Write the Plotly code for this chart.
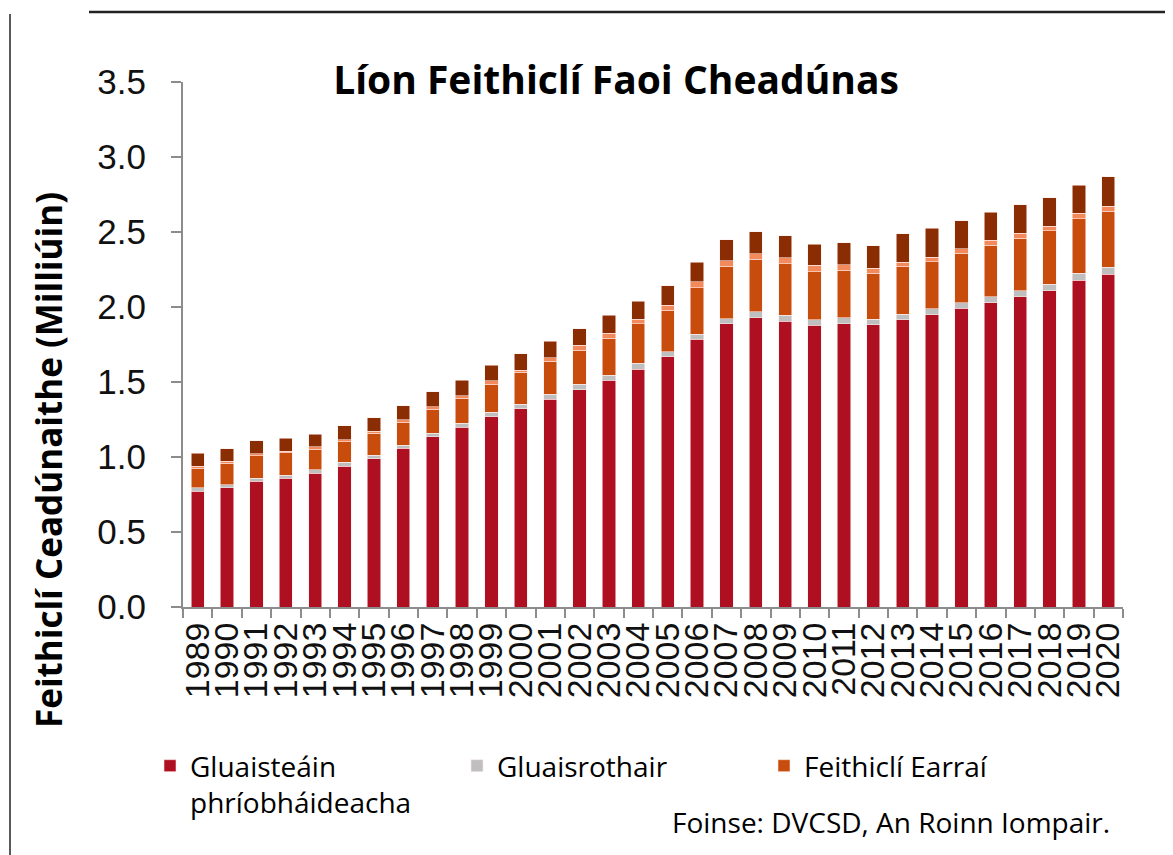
import plotly.graph_objects as go

years = [str(y) for y in range(1989, 2021)]

private_cars = [0.773, 0.795, 0.838, 0.858, 0.891, 0.940, 0.989, 1.060, 1.136, 1.198,
                1.269, 1.322, 1.384, 1.449, 1.511, 1.584, 1.667, 1.784, 1.887, 1.927,
                1.904, 1.878, 1.889, 1.882, 1.916, 1.947, 1.991, 2.029, 2.067, 2.109,
                2.178, 2.218]
motorcycles = [0.022, 0.020, 0.022, 0.022, 0.024, 0.025, 0.022, 0.020, 0.022, 0.026,
               0.031, 0.029, 0.036, 0.035, 0.033, 0.040, 0.035, 0.036, 0.035, 0.040,
               0.040, 0.038, 0.040, 0.038, 0.035, 0.040, 0.036, 0.040, 0.042, 0.042,
               0.046, 0.046]
goods = [0.130, 0.143, 0.149, 0.147, 0.138, 0.137, 0.147, 0.151, 0.160, 0.169,
         0.184, 0.213, 0.218, 0.229, 0.249, 0.263, 0.278, 0.309, 0.351, 0.351,
         0.345, 0.320, 0.315, 0.304, 0.322, 0.315, 0.331, 0.342, 0.351, 0.356,
         0.365, 0.374]
thin_band = [0.015, 0.015, 0.013, 0.013, 0.014, 0.013, 0.013, 0.016, 0.018, 0.016,
             0.025, 0.016, 0.024, 0.031, 0.031, 0.031, 0.033, 0.038, 0.034, 0.038,
             0.040, 0.042, 0.038, 0.036, 0.027, 0.031, 0.031, 0.033, 0.031, 0.033,
             0.035, 0.033]
other = [0.085, 0.082, 0.085, 0.085, 0.086, 0.092, 0.091, 0.095, 0.100, 0.104,
         0.102, 0.107, 0.109, 0.112, 0.120, 0.122, 0.129, 0.133, 0.140, 0.146,
         0.147, 0.142, 0.147, 0.149, 0.189, 0.191, 0.187, 0.187, 0.191, 0.187,
         0.189, 0.196]

y_ticks = [0.0, 0.5, 1.0, 1.5, 2.0, 2.5, 3.0, 3.5]
y_ticktext = ["0.0", "0.5", "1.0", "1.5", "2.0", "2.5", "3.0", "3.5"]

# page offset (body margin) so that the figure lands where the reference is
OFF = 8
W, H = 1173 - OFF, 855 - OFF
L, R, T, B = 183, 1123, 82, 607  # reference pixel coords of the plot area

def px(x):
    return (x - L) / (R - L)

def py(y):
    return (B - y) / (B - T)

series = [
    ("Gluaisteáin<br>phríobháideacha", private_cars, "#AE1022", True),
    ("Gluaisrothair", motorcycles, "#BFBFBF", True),
    ("Feithiclí Earraí", goods, "#C84C0C", True),
    ("Eile 1", thin_band, "#F28A5C", False),
    ("Eile 2", other, "#8A2D02", False),
]

fig = go.Figure()
for name, vals, color, show in series:
    fig.add_trace(go.Bar(
        x=years, y=vals, name=name, showlegend=show,
        marker=dict(color=color, line=dict(color="rgba(255,235,235,0.7)", width=0.8)),
    ))

fig.update_layout(
    barmode="stack",
    bargap=0.55,
    width=W, height=H,
    margin=dict(l=L - OFF, r=1173 - R, t=T - OFF, b=855 - B, autoexpand=False),
    plot_bgcolor="white", paper_bgcolor="white",
    font=dict(family="Liberation Sans, Arial, sans-serif", color="#111"),
    title=dict(text="<b>Líon Feithiclí Faoi Cheadúnas</b>",
               font=dict(family="Open Sans, sans-serif", size=39, color="black"),
               x=(616 - OFF) / W, xref="container", xanchor="center",
               y=1 - (80 - OFF) / H, yref="container", yanchor="middle"),
    legend=dict(orientation="h", x=px(150), xanchor="left", y=py(741), yanchor="top",
                valign="top", entrywidth=262, entrywidthmode="pixels",
                font=dict(family="Open Sans, sans-serif", size=28, color="black"),
                traceorder="normal"),
    xaxis=dict(type="category", tickmode="array", tickvals=years, ticktext=years,
               tickangle=-90, tickfont=dict(size=34, color="#111"),
               showline=True, linecolor="#8c8c8c", linewidth=2,
               ticks="outside", tickson="boundaries", ticklen=9, tickcolor="#8c8c8c",
               tickwidth=1.5, showgrid=False, zeroline=False),
    yaxis=dict(range=[0, 3.5], tickmode="array", tickvals=y_ticks, ticktext=y_ticktext,
               tickfont=dict(size=35, color="#111"),
               showline=True, linecolor="#8c8c8c", linewidth=2,
               ticks="outside", ticklen=10, tickcolor="#8c8c8c", tickwidth=1.5,
               ticklabelstandoff=18, showgrid=False, zeroline=False),
)

fig.add_annotation(text="<b>Feithiclí Ceadúnaithe (Milliúin)</b>", textangle=-90,
                   xref="paper", yref="paper", x=px(48), y=py(460),
                   showarrow=False, xanchor="center", yanchor="middle",
                   font=dict(family="Open Sans, sans-serif", size=35, color="black"))
fig.add_annotation(text="Foinse: DVCSD, An Roinn Iompair.",
                   xref="paper", yref="paper", x=px(1112), y=py(822),
                   showarrow=False, xanchor="right", yanchor="middle",
                   font=dict(family="Open Sans, sans-serif", size=28, color="black"))

# frame lines from the source image
fig.add_shape(type="line", xref="paper", yref="paper", x0=px(89), x1=px(1173),
              y0=py(12), y1=py(12), line=dict(color="#222", width=2.5))
fig.add_shape(type="line", xref="paper", yref="paper", x0=px(10), x1=px(10),
              y0=py(14), y1=py(855), line=dict(color="#222", width=1.5))

fig.write_html("out.html")
